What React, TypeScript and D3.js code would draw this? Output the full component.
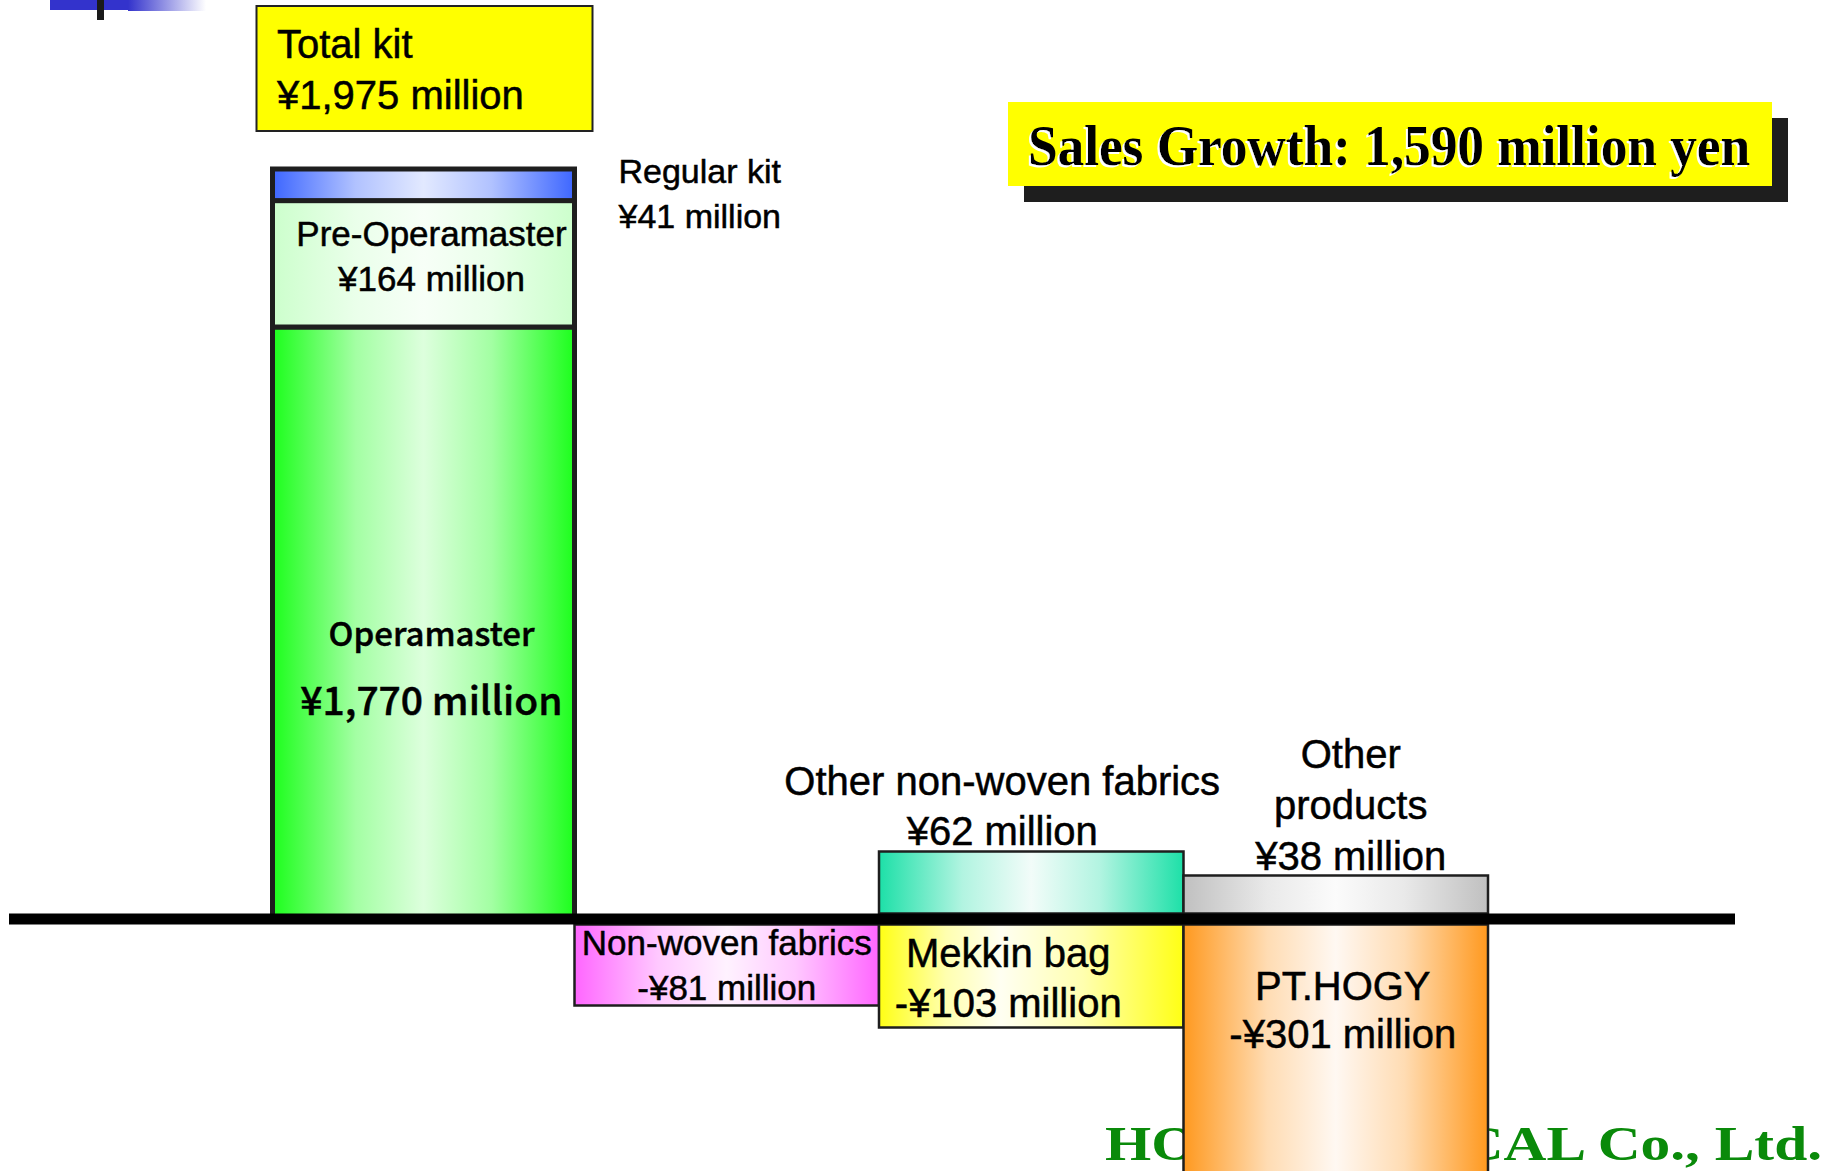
import React from "react";
import * as d3 from "d3";

// kit sales breakdown (million yen)
const kitNames = ["Operamaster", "Pre-Operamaster", "Regular kit"];
const kitValues = [1770, 164, 41];

// other product changes (million yen)
const changeNames = ["Non-woven fabrics", "Other non-woven fabrics", "Mekkin bag", "Other products", "PT.HOGY"];
const changeValues = [-81, 62, -103, 38, -301];
const changeColumns = ["Non-woven fabrics", "Mekkin bag", "Mekkin bag", "PT.HOGY", "PT.HOGY"];

const columns = ["Total kit", "Non-woven fabrics", "Mekkin bag", "PT.HOGY"];

const W = 1831;
const H = 1171;
const baseY = 919;
const lineHalf = 5.5;
const sans = "'Liberation Sans', Arial, sans-serif";
const jp = "'Noto Sans CJK JP', 'Noto Sans', sans-serif";
const serif = "'Liberation Serif', 'Times New Roman', serif";

const fills = {
  "Regular kit": ["#3d66ff", "#e2e9ff", 0.5],
  "Pre-Operamaster": ["#ccffcc", "#f7fff7", 0.5],
  "Operamaster": ["#1cff1c", "#ddffdd", 0.5],
  "Non-woven fabrics": ["#ff66ff", "#fff2ff", 0.5],
  "Other non-woven fabrics": ["#1de0a8", "#f2fcf9", 0.5],
  "Mekkin bag": ["#ffff14", "#fffff2", 0.4],
  "Other products": ["#c0c0c0", "#fbfbfb", 0.5],
  "PT.HOGY": ["#ff991f", "#fff8f2", 0.5],
};

const fmt = d3.format(",");
const money = (v) => (v < 0 ? "-" : "") + "¥" + fmt(Math.abs(v)) + " million";
const gid = (n) => "g-" + n.replace(/[^A-Za-z]/g, "");

const Label = ({ x, y, lines, size, gap, anchor = "middle", font = sans, sizes = null, weight = "normal" }) => (
  <text x={x} y={y} textAnchor={anchor} fontFamily={font} fontWeight={weight} fill="#000"
    stroke="#000" strokeWidth={0.5}>
    {lines.map((l, i) => (
      <tspan key={i} x={x} y={y + i * gap} fontSize={sizes ? sizes[i] : size}>{l}</tspan>
    ))}
  </text>
);

export default function App() {
  const x = d3.scaleBand().domain(columns).range([270, 1488]).paddingInner(0);
  const bw = x.bandwidth();

  const kitTotal = d3.sum(kitValues);
  const cum = d3.cumsum(kitValues);
  // broken axis for the kit column
  const yKit = d3.scaleLinear().domain([0, kitValues[0], kitTotal]).range([baseY, 327, 169]);
  // magnitude scale for changes
  const yDelta = d3.scaleLinear().domain([0, 100]).range([0, 100]);

  const salesGrowth = kitTotal + d3.sum(changeValues);
  const title = `Sales Growth: ${fmt(salesGrowth)} million yen`;

  const kitX = x("Total kit") + 2.5;
  const kitW = bw - 2.5;
  const kitCx = kitX + kitW / 2;

  const segs = kitNames.map((n, i) => ({
    name: n,
    y0: yKit(i === 0 ? 0 : cum[i - 1]),
    y1: yKit(cum[i]),
  }));

  const changes = changeNames.map((n, i) => {
    const v = changeValues[i];
    const h = yDelta(Math.abs(v));
    const top = v > 0 ? baseY - lineHalf - h : baseY + lineHalf;
    return { name: n, v, x: x(changeColumns[i]), top, h };
  });
  const ch = (n) => changes.find((c) => c.name === n);
  const nw = ch("Non-woven fabrics");
  const onw = ch("Other non-woven fabrics");
  const mk = ch("Mekkin bag");
  const op = ch("Other products");
  const pt = ch("PT.HOGY");

  return (
    <svg width={W} height={H} style={{ position: "absolute", left: 0, top: 0, background: "#fff" }}>
      <defs>
        {Object.entries(fills).map(([n, [edge, mid, off]]) => (
          <linearGradient key={n} id={gid(n)} x1="0" x2="1" y1="0" y2="0">
            <stop offset="0" stopColor={edge} />
            <stop offset={off * 0.55} stopColor={d3.interpolateRgb(edge, mid)(0.7)} />
            <stop offset={off} stopColor={mid} />
            <stop offset={off + (1 - off) * 0.45} stopColor={d3.interpolateRgb(edge, mid)(0.7)} />
            <stop offset="1" stopColor={edge} />
          </linearGradient>
        ))}
        <linearGradient id="g-deco" x1="0" x2="1" y1="0" y2="0">
          <stop offset="0" stopColor="#3333cc" />
          <stop offset="1" stopColor="#ffffff" />
        </linearGradient>
        <filter id="whiteShadow" x="-5%" y="-20%" width="110%" height="140%">
          <feDropShadow dx={-2} dy={2} stdDeviation={0} floodColor="#ffffff" floodOpacity={1} />
        </filter>
      </defs>

      {/* slide decoration */}
      <rect x={50} y={0} width={78} height={10} fill="#3333cc" />
      <rect x={128} y={0} width={78} height={11} fill="url(#g-deco)" />
      <rect x={97} y={0} width={7} height={20} fill="#1a1a1a" />

      {/* footer company name, partly hidden by PT.HOGY bar */}
      <text x={1105} y={1160} fontFamily={serif} fontWeight="bold" fontSize={48} fill="#0a8a0a"
        textLength={717} lengthAdjust="spacingAndGlyphs">HOGY MEDICAL Co., Ltd.</text>

      {/* kit stacked column */}
      {segs.map((s) => (
        <rect key={s.name} x={kitX} y={s.y1} width={kitW} height={s.y0 - s.y1}
          fill={`url(#${gid(s.name)})`} stroke="#1e1e1e" strokeWidth={5} />
      ))}

      {/* change bars */}
      {changes.map((c) => (
        <rect key={c.name} x={c.x} y={c.top} width={bw} height={c.h}
          fill={`url(#${gid(c.name)})`} stroke="#1e1e1e" strokeWidth={2.5} />
      ))}

      {/* zero line */}
      <rect x={9} y={baseY - lineHalf} width={1726} height={lineHalf * 2} fill="#000" />

      {/* total kit box */}
      <rect x={kitX - 16} y={6} width={336} height={125} fill="#ffff00" stroke="#222" strokeWidth={2} />
      <Label x={277} y={58} lines={["Total kit", money(kitTotal)]} size={40} gap={51} anchor="start" />

      {/* kit labels */}
      <Label x={kitX + kitW + 44} y={segs[2].y1 + 14} lines={[kitNames[2], money(kitValues[2])]} size={34} gap={45} anchor="start" />
      <Label x={kitCx + 8} y={segs[1].y1 + 45} lines={[kitNames[1], money(kitValues[1])]} size={35} gap={45} />
      <Label x={kitCx + 8} y={baseY - 273} lines={[kitNames[0], money(kitValues[0])]} sizes={[33, 39]} gap={69} font={jp} weight={500} />

      {/* change labels */}
      <Label x={onw.x + bw / 2 - 29} y={onw.top - 57} lines={[onw.name, money(onw.v)]} size={40} gap={50} />
      <Label x={op.x + bw / 2 + 15} y={op.top - 108} lines={["Other", "products", money(op.v)]} size={40} gap={51} />
      <Label x={nw.x + bw / 2} y={nw.top + 30} lines={[nw.name, money(nw.v)]} size={35} gap={45} />
      <Label x={mk.x + bw / 2 - 23} y={mk.top + 42} lines={[mk.name, money(mk.v)]} size={40} gap={50} />
      <Label x={pt.x + bw / 2 + 7} y={pt.top + 75} lines={[pt.name, money(pt.v)]} size={40} gap={48} />

      {/* sales growth banner */}
      <rect x={1024} y={118} width={764} height={84} fill="#1e1e1e" />
      <rect x={1008} y={102} width={764} height={84} fill="#ffff00" />
      <text x={1028} y={165} fontFamily={serif} fontWeight="bold" fontSize={58} fill="#000"
        filter="url(#whiteShadow)"
        textLength={722} lengthAdjust="spacingAndGlyphs">{title}</text>
    </svg>
  );
}
